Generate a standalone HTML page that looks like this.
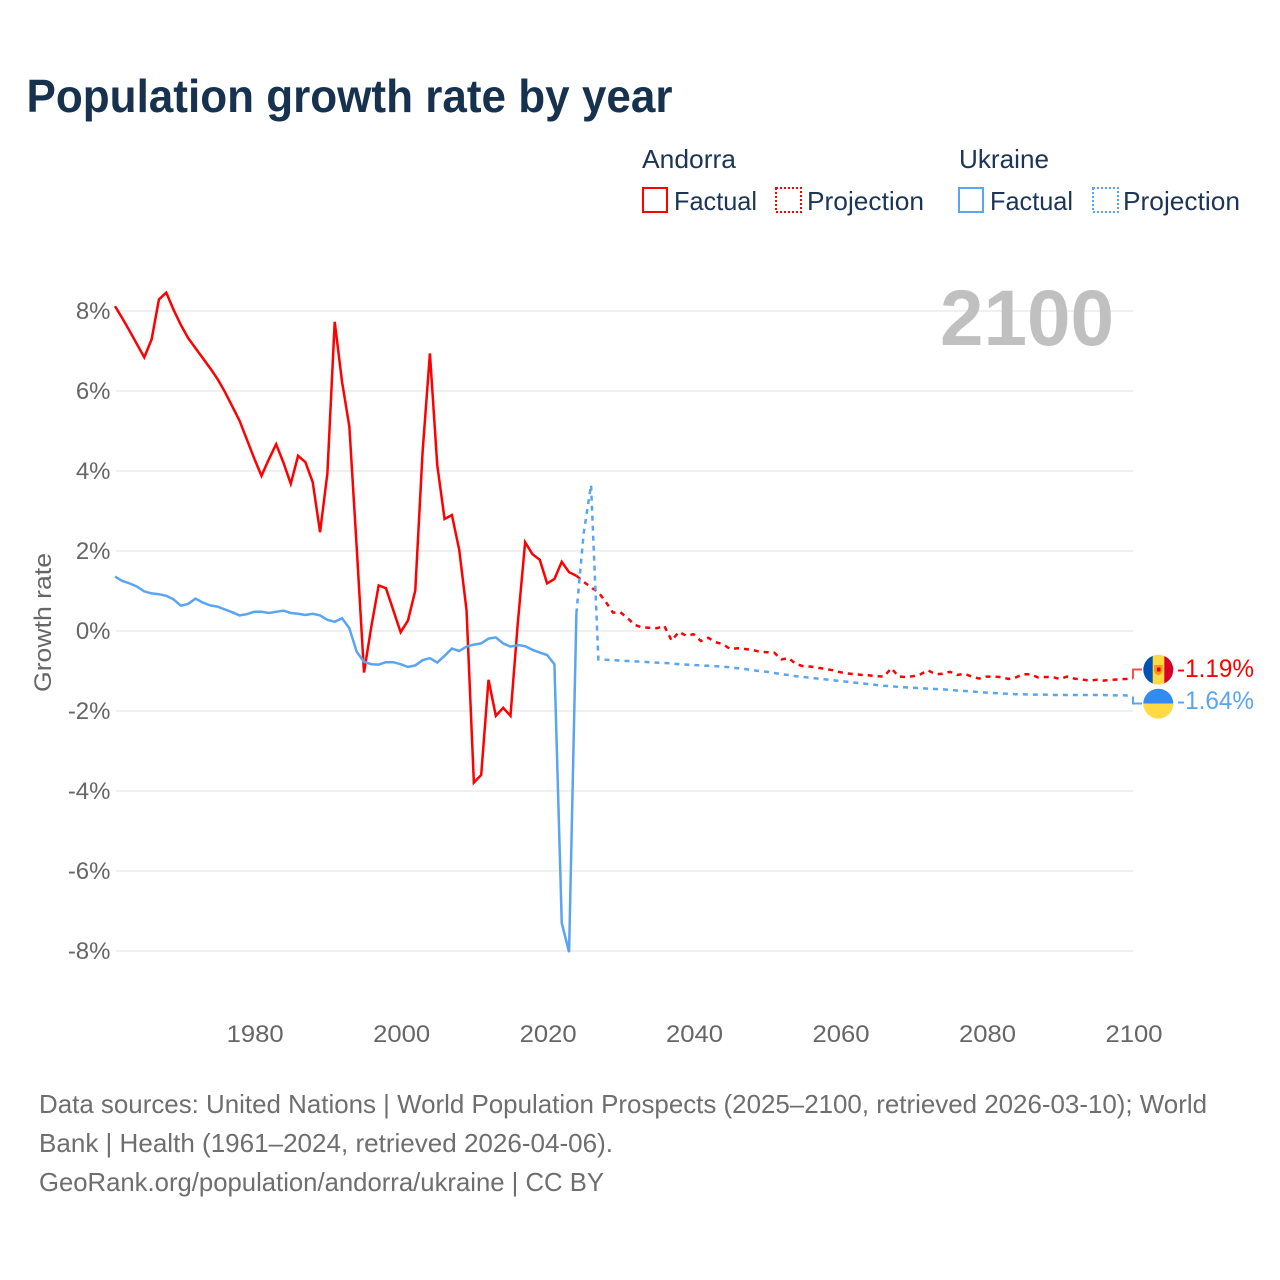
<!DOCTYPE html>
<html lang="en">
<head>
<meta charset="utf-8">
<title>Population growth rate by year</title>
<style>
  html, body { margin: 0; padding: 0; background: #fff; }
  svg { display: block; font-family: "Liberation Sans", sans-serif; }
  .legend-text { font-size: 26px; fill: #1c3556; }
  .foot { font-size: 26px; fill: #6e6e6e; }
</style>
</head>
<body>
<svg id="chart" xmlns="http://www.w3.org/2000/svg" width="1280" height="1280" viewBox="0 0 1280 1280">
  <rect x="0" y="0" width="1280" height="1280" fill="#ffffff"/>
  <text x="26.5" y="112" font-size="46" font-weight="700" fill="#17324f" textLength="646" lengthAdjust="spacingAndGlyphs">Population growth rate by year</text>

  <g>
    <text class="legend-text" x="642" y="168" textLength="94" lengthAdjust="spacingAndGlyphs">Andorra</text>
    <g>
      <rect x="643" y="188" width="24" height="24" fill="none" stroke="#ff0000" stroke-width="2"/>
      <text class="legend-text" x="674" y="210" textLength="83" lengthAdjust="spacingAndGlyphs">Factual</text>
    </g>
    <g>
      <rect x="776" y="188" width="25" height="24" fill="none" stroke="#ff0000" stroke-width="2" stroke-dasharray="2 2"/>
      <text class="legend-text" x="807" y="210" textLength="117" lengthAdjust="spacingAndGlyphs">Projection</text>
    </g>
    <text class="legend-text" x="959" y="168" textLength="90" lengthAdjust="spacingAndGlyphs">Ukraine</text>
    <g>
      <rect x="959" y="188" width="24" height="24" fill="none" stroke="#5aa5f0" stroke-width="2"/>
      <text class="legend-text" x="990" y="210" textLength="83" lengthAdjust="spacingAndGlyphs">Factual</text>
    </g>
    <g>
      <rect x="1093" y="188" width="25" height="24" fill="none" stroke="#5aa5f0" stroke-width="2" stroke-dasharray="2 2"/>
      <text class="legend-text" x="1123" y="210" textLength="117" lengthAdjust="spacingAndGlyphs">Projection</text>
    </g>
  </g>

  <g id="grid"></g>
  <g id="yticks"></g>
  <g id="xticks"></g>
  <text transform="translate(51,692) rotate(-90)" font-size="24" fill="#666666" textLength="139" lengthAdjust="spacingAndGlyphs">Growth rate</text>
  <text x="940" y="345" font-size="79" font-weight="700" fill="#bdbdbd" fill-opacity="0.95" textLength="174" lengthAdjust="spacingAndGlyphs">2100</text>

  <g id="series"></g>

  <defs>
    <clipPath id="clip-andorra"><circle cx="1158.3" cy="669.7" r="15"/></clipPath>
    <clipPath id="clip-ukraine"><circle cx="1158.3" cy="703.7" r="15"/></clipPath>
  </defs>
  <g clip-path="url(#clip-andorra)">
    <rect x="1143" y="654" width="10" height="31" fill="#0052b4"/>
    <rect x="1152.7" y="654" width="11.6" height="31" fill="#ffda44"/>
    <rect x="1164.3" y="654" width="10" height="31" fill="#d80027"/>
    <path d="M1154 665h8.6v5.5q0 3.2-4.3 5q-4.3-1.800-4.300-5z" fill="#ff9811"/>
    <rect x="1157" y="667.500" width="3.500" height="4" fill="#d80027"/>
  </g>
  <g clip-path="url(#clip-ukraine)">
    <rect x="1143" y="688" width="31" height="15.700" fill="#338af3"/>
    <rect x="1143" y="703.700" width="31" height="15.500" fill="#ffda44"/>
  </g>
  <g id="endlabels"></g>

  <g>
    <text class="foot" x="39" y="1113" textLength="1168" lengthAdjust="spacingAndGlyphs">Data sources: United Nations | World Population Prospects (2025–2100, retrieved 2026-03-10); World</text>
    <text class="foot" x="39" y="1152" textLength="574" lengthAdjust="spacingAndGlyphs">Bank | Health (1961–2024, retrieved 2026-04-06).</text>
    <text class="foot" x="39" y="1191" textLength="565" lengthAdjust="spacingAndGlyphs">GeoRank.org/population/andorra/ukraine | CC BY</text>
  </g>
</svg>

<script>
const factualStartYear = 1961;
const projectionStartYear = 2024;
const yTickValues = [8, 6, 4, 2, 0, -2, -4, -6, -8];
const xTickYears = [1980, 2000, 2020, 2040, 2060, 2080, 2100];

const andorraFactual = [
  8.12, 7.82, 7.5, 7.17, 6.84, 7.29, 8.29, 8.46, 8.03, 7.65,
  7.32, 7.07, 6.82, 6.57, 6.3, 5.98, 5.62, 5.26, 4.79, 4.32,
  3.88, 4.29, 4.67, 4.21, 3.68, 4.38, 4.22, 3.72, 2.47, 3.94,
  7.73, 6.23, 5.11, 2.1, -1.04, 0.11, 1.14, 1.07, 0.52, -0.03,
  0.26, 1.01, 4.48, 6.94, 4.15, 2.8, 2.9, 2.03, 0.52, -3.79,
  -3.6, -1.22, -2.12, -1.92, -2.12, 0.2, 2.22, 1.92, 1.78, 1.19,
  1.3, 1.73, 1.47, 1.38
];
const andorraProjection = [
  1.38, 1.23, 1.09, 0.97, 0.73, 0.46, 0.47, 0.32, 0.15, 0.09,
  0.08, 0.07, 0.13, -0.24, -0.02, -0.12, -0.08, -0.25, -0.17, -0.28,
  -0.33, -0.45, -0.43, -0.45, -0.47, -0.52, -0.53, -0.54, -0.71, -0.68,
  -0.83, -0.88, -0.89, -0.92, -0.95, -0.98, -1.03, -1.06, -1.08, -1.1,
  -1.11, -1.13, -1.14, -0.93, -1.14, -1.15, -1.13, -1.08, -0.98, -1.08,
  -1.07, -1.02, -1.1, -1.07, -1.14, -1.19, -1.14, -1.14, -1.15, -1.2,
  -1.16, -1.08, -1.08, -1.16, -1.15, -1.15, -1.2, -1.14, -1.19, -1.21,
  -1.24, -1.22, -1.24, -1.22, -1.21, -1.2, -1.19
];
const ukraineFactual = [
  1.36, 1.25, 1.19, 1.11, 0.99, 0.94, 0.92, 0.88, 0.79, 0.63,
  0.68, 0.81, 0.71, 0.64, 0.61, 0.54, 0.47, 0.39, 0.42, 0.48,
  0.48, 0.45, 0.48, 0.51, 0.45, 0.43, 0.4, 0.43, 0.39, 0.28,
  0.23, 0.32, 0.07, -0.52, -0.77, -0.83, -0.84, -0.78, -0.78, -0.83,
  -0.9, -0.86, -0.73, -0.68, -0.79, -0.62, -0.44, -0.5, -0.39, -0.34,
  -0.31, -0.19, -0.16, -0.31, -0.39, -0.35, -0.38, -0.47, -0.54, -0.6,
  -0.83, -7.3, -8.03, 0.44
];
const ukraineProjection = [
  0.44, 2.45, 3.65, -0.71, -0.72, -0.73, -0.74, -0.75, -0.76, -0.77,
  -0.78, -0.79, -0.8, -0.81, -0.83, -0.84, -0.85, -0.86, -0.87, -0.88,
  -0.89, -0.91, -0.93, -0.95, -0.98, -1, -1.02, -1.05, -1.08, -1.1,
  -1.13, -1.15, -1.17, -1.19, -1.21, -1.23, -1.25, -1.27, -1.29, -1.31,
  -1.33, -1.35, -1.37, -1.38, -1.4, -1.41, -1.42, -1.43, -1.44, -1.45,
  -1.46, -1.47, -1.49, -1.5, -1.51, -1.53, -1.54, -1.55, -1.56, -1.57,
  -1.58, -1.58, -1.59, -1.59, -1.59, -1.6, -1.6, -1.6, -1.6, -1.6,
  -1.6, -1.6, -1.6, -1.61, -1.61, -1.61, -1.64
];

const SVG_NS = 'http://www.w3.org/2000/svg';
const RED = '#ff0000';
const BLUE = '#5aa5f0';

function xScale(year) {
  return 115 + (year - 1961) * (1133 - 115) / (2100 - 1961);
}
function yScale(value) {
  return 631 - value * 40;
}
function create(tag, parent) {
  const node = document.createElementNS(SVG_NS, tag);
  parent.appendChild(node);
  return node;
}
function linePath(values, startYear) {
  return values.map(function (v, i) {
    return (i === 0 ? 'M' : 'L') + xScale(startYear + i).toFixed(2) + ' ' + yScale(v).toFixed(2);
  }).join(' ');
}

const gridGroup = document.getElementById('grid');
const yTickGroup = document.getElementById('yticks');
const xTickGroup = document.getElementById('xticks');
const seriesGroup = document.getElementById('series');
const endGroup = document.getElementById('endlabels');

yTickValues.forEach(function (v) {
  const grid = create('line', gridGroup);
  
  
  grid.setAttribute('x1', xScale(1961) + 1);
  grid.setAttribute('x2', xScale(2100));
  grid.setAttribute('y1', yScale(v));
  grid.setAttribute('y2', yScale(v));
  grid.setAttribute('stroke', '#ececec');
  grid.setAttribute('stroke-width', '1.5');

  const label = create('text', yTickGroup);
  
  
  label.setAttribute('x', 110.5);
  label.setAttribute('y', yScale(v) + 8);
  label.setAttribute('text-anchor', 'end');
  label.setAttribute('font-size', '24');
  label.setAttribute('fill', '#666666');
  label.textContent = v + '%';
});

xTickYears.forEach(function (year) {
  const label = create('text', xTickGroup);
  
  
  label.setAttribute('x', xScale(year) + 1);
  label.setAttribute('y', 1042);
  label.setAttribute('text-anchor', 'middle');
  label.setAttribute('font-size', '24');
  label.setAttribute('fill', '#666666');
  label.setAttribute('textLength', '57');
  label.setAttribute('lengthAdjust', 'spacingAndGlyphs');
  label.textContent = String(year);
});

const andorraFactualLine = create('path', seriesGroup);


andorraFactualLine.setAttribute('d', linePath(andorraFactual, factualStartYear));
andorraFactualLine.setAttribute('fill', 'none');
andorraFactualLine.setAttribute('stroke', RED);
andorraFactualLine.setAttribute('stroke-width', '2.5');

const andorraProjectionLine = create('path', seriesGroup);


andorraProjectionLine.setAttribute('d', linePath(andorraProjection, projectionStartYear));
andorraProjectionLine.setAttribute('fill', 'none');
andorraProjectionLine.setAttribute('stroke', RED);
andorraProjectionLine.setAttribute('stroke-width', '2.5');
andorraProjectionLine.setAttribute('stroke-dasharray', '5 5');

const ukraineFactualLine = create('path', seriesGroup);


ukraineFactualLine.setAttribute('d', linePath(ukraineFactual, factualStartYear));
ukraineFactualLine.setAttribute('fill', 'none');
ukraineFactualLine.setAttribute('stroke', BLUE);
ukraineFactualLine.setAttribute('stroke-width', '2.5');

const ukraineProjectionLine = create('path', seriesGroup);


ukraineProjectionLine.setAttribute('d', linePath(ukraineProjection, projectionStartYear));
ukraineProjectionLine.setAttribute('fill', 'none');
ukraineProjectionLine.setAttribute('stroke', BLUE);
ukraineProjectionLine.setAttribute('stroke-width', '2.5');
ukraineProjectionLine.setAttribute('stroke-dasharray', '5 5');

const lastAndorra = andorraProjection[andorraProjection.length - 1];
const lastUkraine = ukraineProjection[ukraineProjection.length - 1];
const endX = xScale(2100);

const andorraConnector = create('path', endGroup);


andorraConnector.setAttribute('d', 'M' + endX + ' ' + yScale(lastAndorra) + ' V669.5 H1142');
andorraConnector.setAttribute('fill', 'none');
andorraConnector.setAttribute('stroke', RED);
andorraConnector.setAttribute('stroke-opacity', '0.7');
andorraConnector.setAttribute('stroke-width', '2');

const ukraineConnector = create('path', endGroup);


ukraineConnector.setAttribute('d', 'M' + endX + ' ' + yScale(lastUkraine) + ' V703.5 H1142');
ukraineConnector.setAttribute('fill', 'none');
ukraineConnector.setAttribute('stroke', BLUE);
ukraineConnector.setAttribute('stroke-width', '2');

const andorraEndLabel = create('text', endGroup);


andorraEndLabel.setAttribute('x', 1177);
andorraEndLabel.setAttribute('y', 677);
andorraEndLabel.setAttribute('font-size', '25');
andorraEndLabel.setAttribute('fill', RED);
andorraEndLabel.setAttribute('textLength', '77');
andorraEndLabel.setAttribute('lengthAdjust', 'spacingAndGlyphs');
andorraEndLabel.textContent = lastAndorra.toFixed(2) + '%';

const ukraineEndLabel = create('text', endGroup);


ukraineEndLabel.setAttribute('x', 1177);
ukraineEndLabel.setAttribute('y', 709);
ukraineEndLabel.setAttribute('font-size', '25');
ukraineEndLabel.setAttribute('fill', BLUE);
ukraineEndLabel.setAttribute('textLength', '77');
ukraineEndLabel.setAttribute('lengthAdjust', 'spacingAndGlyphs');
ukraineEndLabel.textContent = lastUkraine.toFixed(2) + '%';
</script>
</body>
</html>
